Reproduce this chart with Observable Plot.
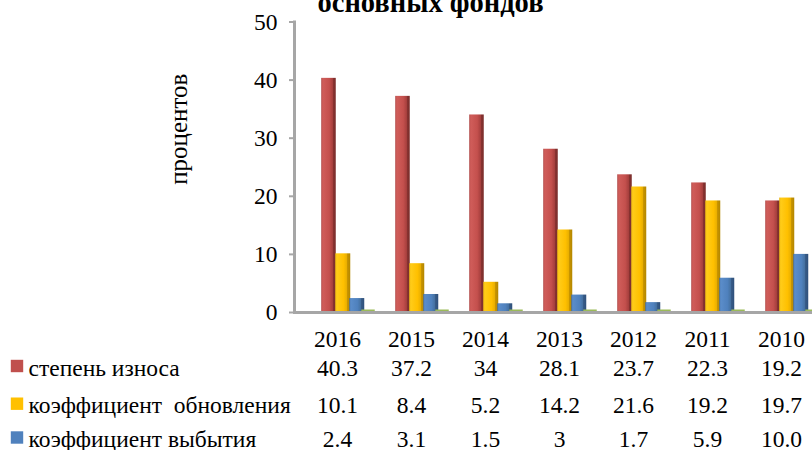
<!DOCTYPE html>
<html><head><meta charset="utf-8">
<script src="https://cdn.jsdelivr.net/npm/d3@7"></script>
<script src="https://cdn.jsdelivr.net/npm/@observablehq/plot@0.6"></script>
<style>
body{margin:0;background:#fff}
svg{display:block}
svg text{white-space:pre}
</style>
</head><body><div id="chart"></div>
<script>
const years = ["2016","2015","2014","2013","2012","2011","2010"];
const wearValues = ["40.3","37.2","34","28.1","23.7","22.3","19.2"];
const renewValues = ["10.1","8.4","5.2","14.2","21.6","19.2","19.7"];
const retireValues = ["2.4","3.1","1.5","3","1.7","5.9","10.0"];
const series4Values = [0,0,0,0,0,0,0];
const seriesNames = ["степень износа","коэффициент  обновления","коэффициент выбытия"];
const seriesColors = ["#c0504d","#ffc000","#4f81bd"];
const yTicks = [0,10,20,30,40,50];
const titleText = "основных фондов";
const yLabel = "процентов";

const rows = years.map((y,i)=>({
  year:y,
  wear:+wearValues[i], wearLabel:wearValues[i],
  renew:+renewValues[i], renewLabel:renewValues[i],
  retire:+retireValues[i], retireLabel:retireValues[i],
  s4:series4Values[i]
}));

const FONT = "'Liberation Serif','Times New Roman',serif";
const FS = 23.5;
const step = 74.5, x0 = 297.75;
const rowDy = [63, 100.7, 134.5];
const labelKeys = ["wearLabel","renewLabel","retireLabel"];
const valueKeys = ["wear","renew","retire"];
const grads = ["gRed","gYel","gBlu"];
const insets = [[21.25,38.25],[35.25,23.75],[49.25,9.75]];

const marks = [];
valueKeys.forEach((k,i)=>{
  marks.push(Plot.barY(rows,{x:"year",y:k,fill:`url(#${grads[i]})`,insetLeft:insets[i][0],insetRight:insets[i][1]}));
});
marks.push(Plot.tickY(rows,{x:"year",y:"s4",stroke:"#9bbb59",strokeWidth:3,insetLeft:61.25,insetRight:-0.75,dy:-1.5}));
marks.push(Plot.ruleY([0],{stroke:"#a6a6a6",strokeWidth:3}));
marks.push(Plot.frame({anchor:"left",stroke:"#a6a6a6",strokeWidth:3}));
marks.push(Plot.axisY(yTicks,{tickSize:5,tickPadding:12,fontSize:FS,fontFamily:FONT,stroke:"#a6a6a6",strokeWidth:2,fill:"black",label:null}));
// year labels
marks.push(Plot.text(rows,{x:"year",text:"year",frameAnchor:"bottom",lineAnchor:"bottom",dy:34.7,fontSize:FS,fontFamily:FONT,fill:"black"}));
// table rows
labelKeys.forEach((k,i)=>{
  marks.push(Plot.text(rows,{x:"year",text:k,frameAnchor:"bottom",lineAnchor:"bottom",dy:rowDy[i],fontSize:FS,fontFamily:FONT,fill:"black"}));
  marks.push(Plot.text([seriesNames[i]],{text:d=>d,frameAnchor:"bottom-left",textAnchor:"start",lineAnchor:"bottom",dx:28-294,dy:rowDy[i],fontSize:FS,fontFamily:FONT,fill:"black"}));
  marks.push(Plot.dot([seriesNames[i]],{frameAnchor:"bottom-left",symbol:"square",r:7,fill:seriesColors[i],dx:16.5-294,dy:rowDy[i]-9.5}));
});
// title
marks.push(Plot.text([titleText],{text:d=>d,frameAnchor:"top",textAnchor:"middle",lineAnchor:"bottom",dx:-123,dy:-9.8,fontSize:28.5,fontWeight:"bold",fontFamily:FONT,fill:"black"}));
// y label
marks.push(Plot.text([yLabel],{text:d=>d,frameAnchor:"left",textAnchor:"middle",rotate:-90,lineAnchor:"bottom",dx:-108,dy:-38,fontSize:25,fontFamily:FONT,fill:"black"}));

const chart = Plot.plot({
  width:812, height:450,
  marginTop:21.5, marginBottom:138, marginLeft:294, marginRight:0,
  style:{fontFamily:FONT, background:"#fff", color:"black", overflow:"visible"},
  x:{domain:years, range:[x0, x0+7*step], padding:0, axis:null},
  y:{domain:[0,50], axis:null},
  marks
});

const defs = d3.select(chart).insert("defs",":first-child");
function grad(id, stops){
  const g = defs.append("linearGradient").attr("id",id).attr("x1","0").attr("x2","1").attr("y1","0").attr("y2","0");
  stops.forEach(([o,c])=>g.append("stop").attr("offset",o).attr("stop-color",c));
}
grad("gRed",[[0,"#a9403e"],[0.1,"#d05d5a"],[0.55,"#c4504d"],[0.78,"#a7403e"],[0.8,"#8a3331"],[1,"#7a2d2b"]]);
grad("gYel",[[0,"#e6ad00"],[0.1,"#ffcc1a"],[0.55,"#ffc000"],[0.78,"#e8ae00"],[0.8,"#c99500"],[1,"#b38600"]]);
grad("gBlu",[[0,"#40699c"],[0.1,"#5b8dca"],[0.55,"#4f81bd"],[0.78,"#44709f"],[0.8,"#375c89"],[1,"#2f507a"]]);

document.getElementById("chart").appendChild(chart);
</script>
</body></html>
